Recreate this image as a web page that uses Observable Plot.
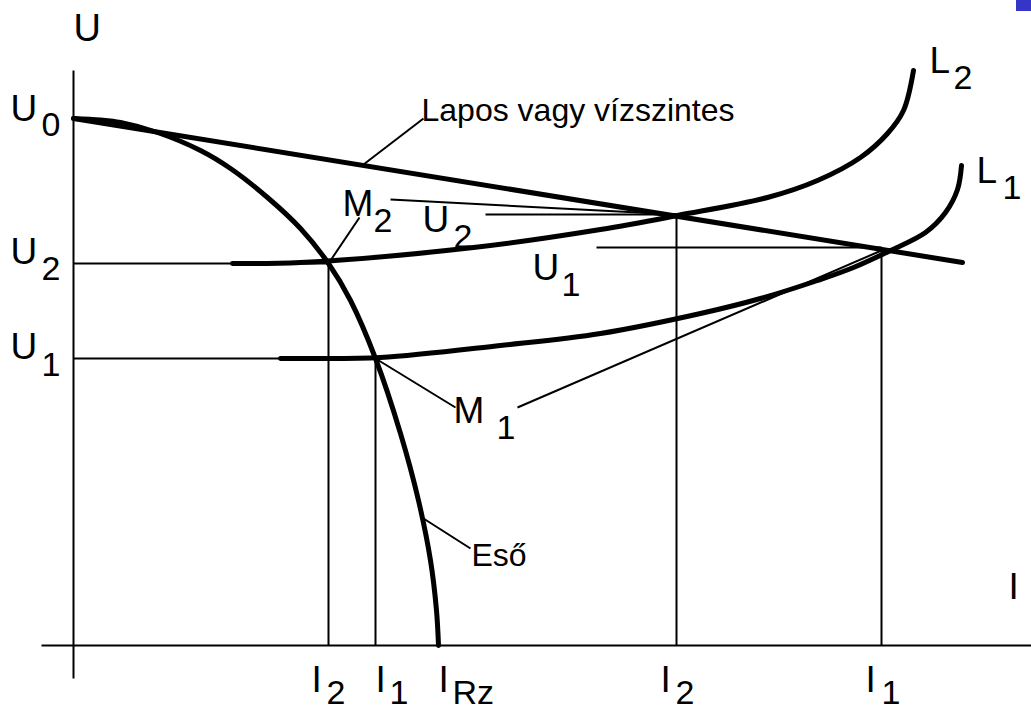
<!DOCTYPE html>
<html><head><meta charset="utf-8">
<script src="https://cdn.jsdelivr.net/npm/d3@7"></script>
<script src="https://cdn.jsdelivr.net/npm/@observablehq/plot@0.6"></script>
<style>body{margin:0;background:#fff}#chart svg{display:block}</style>
</head><body><div id="chart"></div>
<script>
// ---- values (arbitrary units: I current, U voltage) ----
const U0 = 527;
const IRz = 365;
// operating points
const M2 = [255, 382];   // drooping x L2
const M1 = [302, 287];   // drooping x L1
const P2 = [603, 431];   // flat x L2
const P1 = [808, 397];   // flat x L1
// flat ("Lapos vagy vízszintes") characteristic
const flatI = [0, 889];
const flatU = [527, 383];
// drooping ("Eső") characteristic
const droopI = [0, 27, 47, 84, 127, 157, 194, 227, 255, 277, 302, 327, 345, 357, 363, 365];
const droopU = [527, 525.5, 523, 513, 495, 477, 448, 417, 382, 345, 287, 212, 145, 85, 35, 0];
// arc lines L2 and L1
const L2I = [159, 227, 400, 527, 604, 694, 744, 787, 814, 830, 840];
const L2U = [382, 383, 398, 416, 430, 448, 465, 488, 512, 535, 575];
const L1I = [207, 227, 307, 427, 527, 627, 687, 744, 780, 817, 852, 872, 884, 888];
const L1U = [287, 287, 288, 300, 312, 332, 347, 365, 378, 395, 413, 433, 456, 480];
// tick labels
const xTickMain = ["I", "I", "I", "I", "I"];
const xTickSub = ["2", "1", "Rz", "2", "1"];
const yTickSub = ["0", "2", "1"];

const rows = (I, U) => I.map((d, i) => ({I: d, U: U[i]}));
const FONT = "Liberation Sans, Arial, Helvetica, sans-serif";

// thin guide lines
const guides = [
  {x1: -32, y1: 0, x2: 958, y2: 0},          // I axis
  {x1: 0, y1: -33, x2: 0, y2: 575},          // U axis
  {x1: 0, y1: M2[1], x2: M2[0], y2: M2[1]},
  {x1: 0, y1: M1[1], x2: M1[0], y2: M1[1]},
  {x1: M2[0], y1: M2[1], x2: M2[0], y2: 0},
  {x1: M1[0], y1: M1[1], x2: M1[0], y2: 0},
  {x1: P2[0], y1: P2[1], x2: P2[0], y2: 0},
  {x1: P1[0], y1: P1[1], x2: P1[0], y2: 0},
  // leaders
  {x1: 412, y1: P2[1], x2: P2[0], y2: P2[1]},
  {x1: 317, y1: 446, x2: P2[0], y2: P2[1]},
  {x1: 286, y1: 428, x2: M2[0], y2: M2[1]},
  {x1: 523, y1: 398, x2: P1[0], y2: 398},
  {x1: M1[0], y1: M1[1], x2: 382, y2: 238},
  {x1: 444, y1: 238, x2: P1[0], y2: 395},
  {x1: 290, y1: 481, x2: 350, y2: 527},
  {x1: 350, y1: 127, x2: 397, y2: 97}
];

const bigLabels = [
  {t: "U", I: 0, U: 605, s: 38},
  {t: "U", I: -63, U: 525, s: 37},
  {t: "U", I: -63, U: 382, s: 37},
  {t: "U", I: -63, U: 287, s: 37},
  {t: "M", I: 269, U: 430, s: 37},
  {t: "U", I: 349, U: 414, s: 37},
  {t: "U", I: 459, U: 366, s: 37},
  {t: "M", I: 380, U: 223, s: 37},
  {t: "L", I: 856, U: 573, s: 37},
  {t: "L", I: 903, U: 463, s: 37},
  {t: "I", I: 935, U: 47, s: 37},
  ...[238, 302, 365, 587, 792].map((I, i) => ({t: xTickMain[i], I, U: -46, s: 37}))
];
const subLabels = [
  {t: yTickSub[0], I: -32, U: 510},
  {t: yTickSub[1], I: -32, U: 366},
  {t: yTickSub[2], I: -32, U: 270},
  {t: "2", I: 300, U: 414},
  {t: "2", I: 380, U: 398},
  {t: "1", I: 488, U: 350},
  {t: "1", I: 423, U: 207},
  {t: "2", I: 880, U: 557},
  {t: "1", I: 929, U: 447},
  ...[253, 316, 379, 602, 808].map((I, i) => ({t: xTickSub[i], I, U: -58}))
];
const smallLabels = [
  {t: "Lapos vagy vízszintes", I: 348, U: 525},
  {t: "Eső", I: 398, U: 80}
];

const thick = {x: "I", y: "U", stroke: "black", strokeWidth: 5, strokeLinecap: "round", strokeLinejoin: "round", curve: "catmull-rom"};
const txt = {x: "I", y: "U", text: "t", textAnchor: "start", lineAnchor: "bottom", fill: "black", fontFamily: FONT};

const chart = Plot.plot({
  width: 1031,
  height: 711,
  marginLeft: 73,
  marginRight: 0,
  marginTop: 0,
  marginBottom: 66,
  x: {domain: [0, 958], axis: null},
  y: {domain: [0, 645], axis: null},
  style: {fontFamily: FONT, background: "white", overflow: "visible"},
  marks: [
    Plot.rect([{x1: 943, x2: 958, y1: 634, y2: 645}], {x1: "x1", x2: "x2", y1: "y1", y2: "y2", fill: "#3535c8"}),
    Plot.link(guides, {x1: "x1", y1: "y1", x2: "x2", y2: "y2", stroke: "black", strokeWidth: 2}),
    Plot.line(rows(flatI, flatU), thick),
    Plot.line(rows(droopI, droopU), thick),
    Plot.line(rows(L2I, L2U), thick),
    Plot.line(rows(L1I, L1U), thick),
    Plot.text(bigLabels, {...txt, fontSize: d => d.s}),
    Plot.text(subLabels, {...txt, fontSize: 34}),
    Plot.text(smallLabels, {...txt, fontSize: 32})
  ]
});
document.getElementById("chart").append(chart);
</script>
</body></html>
